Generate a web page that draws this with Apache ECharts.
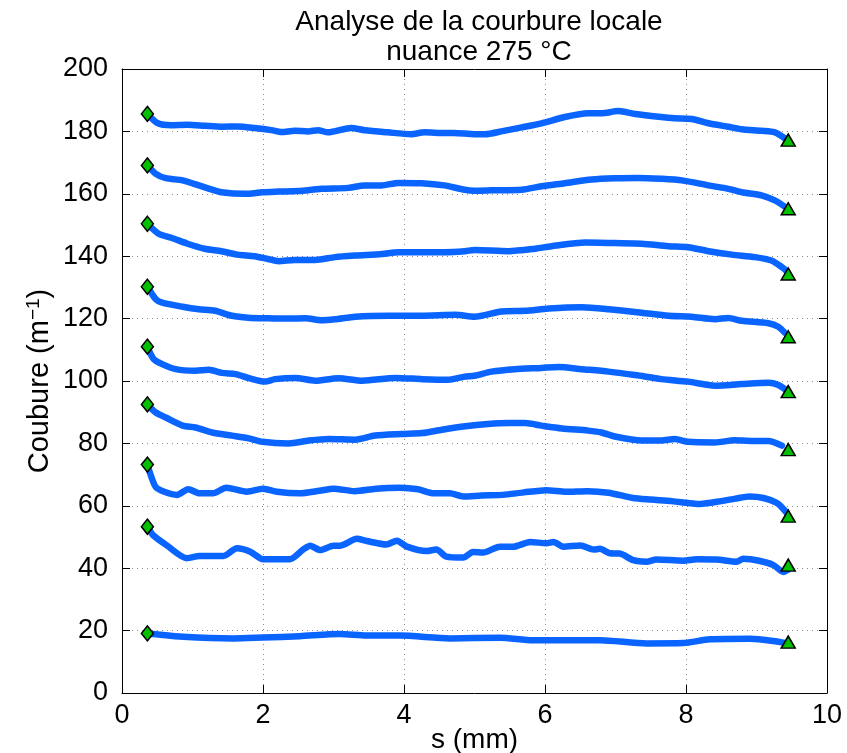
<!DOCTYPE html>
<html>
<head>
<meta charset="utf-8">
<script src="https://cdn.jsdelivr.net/npm/echarts@6/dist/echarts.min.js"></script>
<style>
html,body{margin:0;padding:0;background:#fff;}
#chart{width:847px;height:753px;}
</style>
</head>
<body>
<div id="chart"></div>
<script>
// ---- Data (s in mm, curvature in m^-1) ----
const titleLines = ['Analyse de la courbure locale', 'nuance 275 °C'];
const xTicks = [0, 2, 4, 6, 8, 10];
const yTicks = [0, 20, 40, 60, 80, 100, 120, 140, 160, 180, 200];

const c1 = [[0.36,185.6],[0.51,182.6],[0.70,182.0],[0.93,182.1],[1.17,181.8],[1.41,181.5],[1.64,181.6],[1.88,181.1],[2.12,180.4],[2.26,179.8],[2.45,180.2],[2.64,180.0],[2.78,180.4],[2.92,179.7],[3.25,181.1],[3.44,180.4],[3.77,179.7],[4.10,179.1],[4.29,179.7],[4.57,179.5],[4.71,179.5],[5.00,179.1],[5.15,179.1],[5.38,180.0],[5.67,181.3],[5.95,182.6],[6.28,184.6],[6.61,185.8],[6.80,185.8],[7.04,186.5],[7.28,185.6],[7.61,184.7],[7.84,184.2],[8.08,184.0],[8.32,182.6],[8.60,181.5],[8.79,180.7],[9.07,180.2],[9.26,179.7],[9.40,177.8]];
const c2 = [[0.36,169.1],[0.48,166.4],[0.62,165.0],[0.86,164.3],[1.09,162.7],[1.24,161.6],[1.41,160.5],[1.75,160.0],[1.99,160.5],[2.22,160.7],[2.50,160.9],[2.83,161.6],[3.21,161.9],[3.44,162.7],[3.68,162.7],[3.92,163.5],[4.25,163.4],[4.57,162.7],[4.86,161.3],[5.00,161.0],[5.24,161.1],[5.67,161.3],[5.95,162.4],[6.28,163.4],[6.66,164.6],[6.99,165.0],[7.32,165.1],[7.65,164.8],[7.94,164.3],[8.32,162.7],[8.60,161.6],[8.79,160.5],[9.07,159.5],[9.26,157.9],[9.40,155.9]];
const c3 = [[0.36,150.4],[0.52,147.2],[0.70,145.9],[0.93,144.0],[1.17,142.4],[1.41,141.6],[1.64,140.5],[1.88,140.0],[2.07,139.1],[2.22,138.4],[2.45,138.8],[2.74,138.8],[3.02,139.7],[3.31,140.2],[3.69,140.7],[3.92,141.3],[4.25,141.3],[4.57,141.3],[4.86,141.6],[5.00,142.0],[5.48,141.6],[5.86,142.4],[6.09,143.2],[6.57,144.4],[6.99,144.2],[7.37,144.0],[7.75,143.2],[8.03,142.9],[8.32,141.6],[8.65,140.5],[8.98,139.7],[9.21,138.6],[9.36,136.5],[9.43,135.2]];
const c4 = [[0.36,130.2],[0.48,126.2],[0.57,125.1],[0.86,123.8],[1.09,123.0],[1.32,122.5],[1.56,120.9],[1.79,120.3],[2.07,120.1],[2.36,120.0],[2.60,120.1],[2.83,119.5],[3.02,119.8],[3.31,120.6],[3.78,120.9],[4.25,120.9],[4.73,121.2],[5.00,120.6],[5.38,122.3],[5.72,122.5],[6.05,123.2],[6.52,123.6],[6.90,123.0],[7.37,121.9],[7.75,120.9],[8.08,120.6],[8.41,119.8],[8.60,120.2],[8.79,119.3],[9.17,118.5],[9.31,117.4],[9.40,115.5]];
const c5 = [[0.36,111.0],[0.45,107.0],[0.57,105.4],[0.76,103.8],[1.04,103.3],[1.23,103.6],[1.42,102.6],[1.61,102.2],[1.80,100.9],[2.03,99.8],[2.17,100.6],[2.46,101.0],[2.74,100.1],[3.07,100.9],[3.41,100.1],[3.88,101.0],[4.26,100.6],[4.63,100.4],[4.86,101.4],[5.00,101.7],[5.24,103.0],[5.57,103.8],[5.95,104.2],[6.19,104.5],[6.52,103.8],[6.90,103.0],[7.28,101.9],[7.65,100.6],[8.03,99.8],[8.41,98.5],[8.79,99.0],[9.17,99.4],[9.31,98.7],[9.43,96.9]];
const c6 = [[0.36,92.5],[0.48,89.9],[0.62,88.3],[0.86,85.7],[1.04,85.1],[1.28,83.5],[1.56,82.5],[1.80,81.6],[1.99,80.5],[2.36,80.0],[2.65,80.9],[2.93,81.4],[3.31,81.2],[3.59,82.5],[3.97,83.0],[4.26,83.3],[4.54,84.4],[4.87,85.5],[5.19,86.2],[5.48,86.5],[5.72,86.5],[5.95,85.7],[6.24,84.8],[6.61,84.1],[6.80,83.5],[6.99,82.2],[7.37,80.9],[7.65,80.9],[7.84,81.4],[8.03,80.5],[8.41,80.3],[8.69,81.0],[8.93,80.8],[9.17,80.8],[9.36,79.3]];
const c7 = [[0.36,73.2],[0.42,69.0],[0.48,66.0],[0.60,64.5],[0.78,63.5],[0.94,65.3],[1.10,64.0],[1.29,64.0],[1.48,65.8],[1.77,64.5],[2.00,65.5],[2.20,64.5],[2.52,64.0],[2.80,64.8],[3.00,65.5],[3.30,64.7],[3.60,65.5],[3.94,65.8],[4.20,65.3],[4.42,64.0],[4.65,64.0],[4.84,63.0],[5.10,63.3],[5.40,63.5],[5.70,64.3],[6.02,65.0],[6.30,64.5],[6.60,64.7],[6.90,64.2],[7.25,62.5],[7.50,62.0],[7.80,61.5],[8.20,60.6],[8.50,61.5],[8.70,62.3],[8.90,63.0],[9.10,62.5],[9.28,61.0],[9.36,59.5],[9.43,57.7]];
const c8 = [[0.36,53.3],[0.44,50.6],[0.63,47.4],[0.92,43.2],[1.10,43.9],[1.44,43.9],[1.63,46.4],[1.82,45.3],[2.00,42.9],[2.38,42.9],[2.57,46.0],[2.67,47.2],[2.81,45.8],[3.00,47.2],[3.09,47.2],[3.33,49.4],[3.47,48.7],[3.75,47.6],[3.90,48.8],[4.04,46.9],[4.32,45.5],[4.46,46.0],[4.60,43.7],[4.84,43.4],[4.98,45.2],[5.12,45.0],[5.36,46.9],[5.55,46.9],[5.79,48.4],[6.02,48.0],[6.12,48.4],[6.26,46.9],[6.50,47.3],[6.69,46.0],[6.78,46.2],[6.92,44.8],[7.06,44.7],[7.25,42.6],[7.44,42.1],[7.58,42.8],[7.96,42.4],[8.15,42.9],[8.43,42.8],[8.72,42.1],[8.81,43.0],[9.05,42.3],[9.24,41.0],[9.38,38.8],[9.45,39.6]];
const c9 = [[0.36,19.1],[0.44,18.9],[0.87,18.0],[1.58,17.5],[2.00,17.8],[2.52,18.2],[3.09,18.9],[3.47,18.4],[3.94,18.4],[4.65,17.5],[5.36,17.7],[5.83,16.9],[6.78,16.9],[7.44,15.9],[7.96,16.0],[8.34,17.2],[8.91,17.4],[9.29,16.5],[9.43,15.9]];
const curves = [c1, c2, c3, c4, c5, c6, c7, c8, c9];

const startMarkers = [[0.36,185.6],[0.36,169.1],[0.36,150.4],[0.36,130.2],[0.36,111.0],[0.36,92.5],[0.36,73.2],[0.36,53.3],[0.36,19.1]];
const endMarkers = [[9.45,177.2],[9.45,155.2],[9.45,134.3],[9.45,114.2],[9.45,96.6],[9.45,78.0],[9.45,56.7],[9.45,41.0],[9.45,16.3]];

// ---- Chart ----
const FONT = "'Liberation Sans', Arial, sans-serif";
const chart = echarts.init(document.getElementById('chart'), null, {renderer: 'canvas'});

const gridLine = {show: true, lineStyle: {color: '#8c8c8c', type: [1, 4], width: 1}};
const axisLineStyle = {show: true, onZero: false, lineStyle: {color: '#000', width: 1}};
const tickIn = {show: true, inside: true, length: 8, lineStyle: {color: '#000', width: 1}};

const series = [];
curves.forEach(function (c, i) {
  series.push({
    type: 'line', name: 'c' + (i + 1), data: c, showSymbol: false, symbol: 'none',
    smooth: 0.25, lineStyle: {color: '#0a64ff', width: 6.5, cap: 'round', join: 'round'},
    z: 2, silent: true, animation: false
  });
});
series.push({
  type: 'scatter', data: startMarkers, symbol: 'diamond', symbolSize: [12, 15],
  itemStyle: {color: '#00c000', borderColor: '#000', borderWidth: 1.5, opacity: 1},
  z: 5, animation: false
});
series.push({
  type: 'scatter', data: endMarkers, symbol: 'triangle', symbolSize: [14, 12],
  itemStyle: {color: '#00c000', borderColor: '#000', borderWidth: 1.5, opacity: 1},
  z: 5, animation: false
});

chart.setOption({
  backgroundColor: '#fff',
  animation: false,
  title: {
    text: titleLines.join('\n'),
    left: 474, top: 2, textAlign: 'center',
    textStyle: {fontFamily: FONT, fontSize: 28, fontWeight: 'normal', color: '#000', lineHeight: 30}
  },
  grid: {left: 122, right: 20, top: 69, bottom: 60, containLabel: false, outerBoundsMode: 'none'},
  xAxis: [{
    type: 'value', min: 0, max: 10, interval: 2, position: 'bottom',
    name: 's (mm)', nameLocation: 'middle', nameGap: 33, nameMoveOverlap: false,
    nameTextStyle: {fontFamily: FONT, fontSize: 28, color: '#000', lineHeight: 28},
    axisLine: axisLineStyle, axisTick: tickIn, splitLine: gridLine,
    axisLabel: {fontFamily: FONT, fontSize: 27, color: '#000', margin: 9,
      formatter: function (v) { return xTicks.indexOf(v) >= 0 ? String(v) : ''; }}
  }, {
    type: 'value', min: 0, max: 10, interval: 2, position: 'top',
    axisLine: axisLineStyle, axisTick: tickIn, splitLine: {show: false}, axisLabel: {show: false}
  }],
  yAxis: [{
    type: 'value', min: 0, max: 200, interval: 20, position: 'left',
    name: 'Coubure (m{sup|−1})', nameLocation: 'middle', nameGap: 66, nameRotate: 90, nameMoveOverlap: false,
    nameTextStyle: {fontFamily: FONT, fontSize: 29, color: '#000',
      rich: {sup: {fontFamily: FONT, fontSize: 19, color: '#000', verticalAlign: 'top', padding: [0, 0, 13, 0]}}},
    axisLine: axisLineStyle, axisTick: tickIn, splitLine: gridLine,
    axisLabel: {fontFamily: FONT, fontSize: 27, color: '#000', margin: 14,
      formatter: function (v) { return yTicks.indexOf(v) >= 0 ? String(v) : ''; }}
  }, {
    type: 'value', min: 0, max: 200, interval: 20, position: 'right',
    axisLine: axisLineStyle, axisTick: tickIn, splitLine: {show: false}, axisLabel: {show: false}
  }],
  series: series
});
</script>
</body>
</html>
